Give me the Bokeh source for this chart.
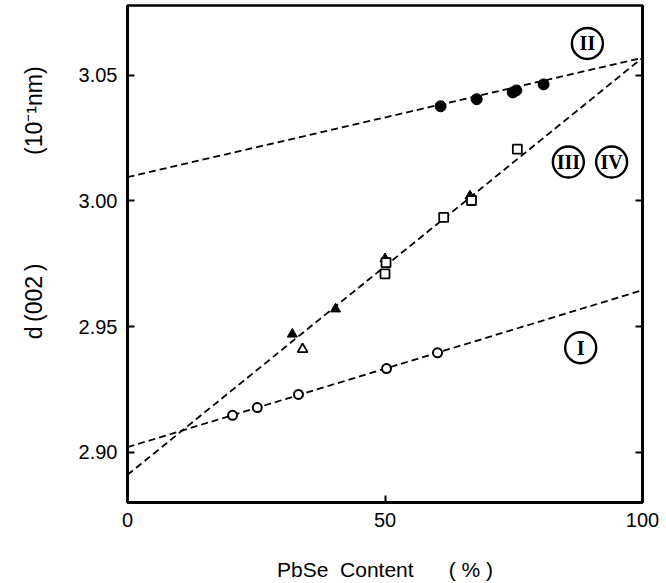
from bokeh.plotting import figure
from bokeh.models import (LinearAxis, FixedTicker, Range1d, PrintfTickFormatter,
                          CustomJSTickFormatter)
from bokeh.core.properties import value
from bokeh.embed import file_html
from bokeh.resources import INLINE

# ---- data ----
line_x = [0, 100]
line_I_y = [2.902, 2.9645]
line_II_y = [3.0095, 3.057]
line_III_y = [2.891, 3.057]

open_circle_x = [20.4, 25.2, 33.2, 50.3, 60.2]
open_circle_y = [2.9147, 2.9178, 2.9230, 2.9333, 2.9396]

filled_circle_x = [60.8, 67.8, 74.8, 75.5, 80.8]
filled_circle_y = [3.0377, 3.0405, 3.0432, 3.0440, 3.0464]

filled_tri_x = [32.0, 40.4, 50.0, 66.5]
filled_tri_y = [2.947, 2.957, 2.977, 3.002]

open_tri_x = [34.0]
open_tri_y = [2.941]

square_x = [50.2, 50.0, 61.4, 66.8, 75.7]
square_y = [2.9755, 2.971, 2.9935, 3.0002, 3.0206]

roman_labels = ["I", "II", "III", "IV"]
roman_x = [88.0, 89.3, 85.6, 94.0]
roman_y = [2.9416, 3.0627, 3.0155, 3.0155]

x_ticks = [0, 50, 100]
y_ticks = [2.90, 2.95, 3.00, 3.05]

FONT = "Liberation Sans"
NB = "\u00a0"
TH = "\u2009"

p = figure(width=666, height=583, output_backend="svg", toolbar_location=None,
           x_range=Range1d(0, 100), y_range=Range1d(2.880, 3.0778),
           min_border_left=127, min_border_right=24, min_border_top=5, min_border_bottom=80)
p.background_fill_color = "white"
p.border_fill_color = "white"
p.grid.visible = False
p.outline_line_color = "black"
p.outline_line_width = 2.5

for ax in (p.xaxis[0], p.yaxis[0]):
    ax.axis_line_width = 3
    ax.major_tick_in = 7
    ax.major_tick_out = 0
    ax.major_tick_line_width = 2
    ax.minor_tick_line_color = None
    ax.major_label_text_font = FONT
    ax.major_label_text_font_size = "20px"
    ax.major_label_text_color = "black"
    ax.axis_label_text_font = FONT
    ax.axis_label_text_font_style = "normal"
    ax.axis_label_text_color = "black"

p.xaxis[0].ticker = FixedTicker(ticks=x_ticks)
p.xaxis[0].major_label_standoff = 10
p.xaxis[0].axis_label = "PbSe" + NB * 2 + "Content" + NB * 6 + "(" + NB + "%" + NB + ")"
p.xaxis[0].axis_label_text_font_size = "21px"
p.xaxis[0].axis_label_standoff = 28

p.yaxis[0].ticker = FixedTicker(ticks=y_ticks)
p.yaxis[0].formatter = PrintfTickFormatter(format="%.2f")
p.yaxis[0].major_label_standoff = 10
p.yaxis[0].axis_label = (NB * 16 + "d" + TH + "(002" + TH + ")" + NB * 17
                         + "(10\u207b\u00b9nm)")
p.yaxis[0].axis_label_text_font_size = "23px"
p.yaxis[0].axis_label_standoff = 29

right = LinearAxis(ticker=FixedTicker(ticks=y_ticks), axis_line_width=3,
                   major_tick_in=7, major_tick_out=0, major_tick_line_width=2,
                   minor_tick_line_color=None,
                   formatter=CustomJSTickFormatter(code="return ''"),
                   major_label_standoff=0)
p.add_layout(right, "right")

# dashed fit lines
for ys in (line_I_y, line_II_y, line_III_y):
    p.line(line_x, ys, line_color="black", line_width=1.8, line_dash="7 4")

p.scatter(open_circle_x, open_circle_y, marker="circle", size=9, fill_color="white",
          line_color="black", line_width=2)
p.scatter(filled_circle_x, filled_circle_y, marker="circle", size=11, fill_color="black",
          line_color="black")
p.scatter(filled_tri_x, filled_tri_y, marker="triangle", size=10, fill_color="black",
          line_color="black")
p.scatter(open_tri_x, open_tri_y, marker="triangle", size=10, fill_color="white",
          line_color="black", line_width=1.8)
p.scatter(square_x, square_y, marker="square", size=9, fill_color="white",
          line_color="black", line_width=1.8)

# circled roman numerals
p.scatter(roman_x, roman_y, marker="circle", size=31, fill_color="white",
          line_color="black", line_width=2.4)
p.text(roman_x, roman_y, text=roman_labels, text_font=value("Liberation Serif"),
       text_font_style="bold", text_font_size="20px", text_align="center",
       text_baseline="middle", text_color="black")

open("out.html", "w").write(file_html(p, INLINE))
